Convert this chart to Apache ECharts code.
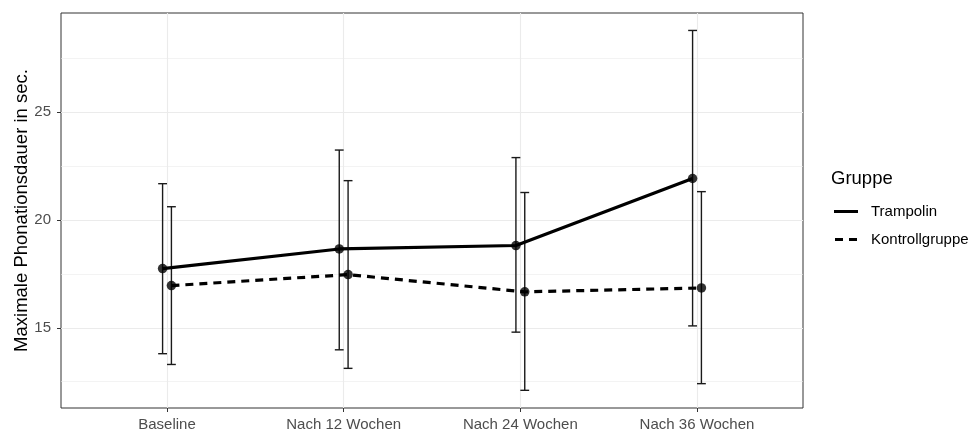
<!DOCTYPE html>
<html>
<head>
<meta charset="utf-8">
<script src="https://cdn.jsdelivr.net/npm/echarts@6/dist/echarts.min.js"></script>
<style>
  html, body { margin: 0; padding: 0; background: #fff; }
  #chart { width: 971px; height: 432px; }
</style>
</head>
<body>
<div id="chart"></div>
<script>
// ---- data ----
const categories = ['Baseline', 'Nach 12 Wochen', 'Nach 24 Wochen', 'Nach 36 Wochen'];
const groups = ['Trampolin', 'Kontrollgruppe'];
const trampolinMean = [17.75, 18.66, 18.82, 21.93];
const trampolinLow  = [13.80, 13.98, 14.80, 15.09];
const trampolinHigh = [21.69, 23.25, 22.90, 28.80];
const kontrolleMean = [16.96, 17.47, 16.67, 16.85];
const kontrolleLow  = [13.30, 13.12, 12.10, 12.41];
const kontrolleHigh = [20.62, 21.83, 21.28, 21.32];
const yMajorTicks = [15, 20, 25];
const yMinorTicks = [12.5, 17.5, 22.5, 27.5];

// ---- layout/style ----
const FONT = '"Liberation Sans", Arial, sans-serif';
const dodge = 0.025;
const capWidth = 0.05;
const catPos = categories.map((c, i) => i + 1);

function pts(mean, off) { return mean.map((v, i) => [catPos[i] + off, v]); }
function bars(low, high, off) { return low.map((v, i) => [catPos[i] + off, v, high[i]]); }

function errRender(params, api) {
  const x = api.value(0), lo = api.value(1), hi = api.value(2);
  const top = api.coord([x, hi]);
  const bot = api.coord([x, lo]);
  const w = api.size([capWidth, 0])[0] / 2;
  const st = { stroke: '#1a1a1a', lineWidth: 1.4 };
  return {
    type: 'group',
    children: [
      { type: 'line', shape: { x1: top[0], y1: top[1], x2: bot[0], y2: bot[1] }, style: st },
      { type: 'line', shape: { x1: top[0] - w, y1: top[1], x2: top[0] + w, y2: top[1] }, style: st },
      { type: 'line', shape: { x1: bot[0] - w, y1: bot[1], x2: bot[0] + w, y2: bot[1] }, style: st }
    ]
  };
}

const chart = echarts.init(document.getElementById('chart'), null, { renderer: 'canvas' });
chart.setOption({
  animation: false,
  backgroundColor: '#fff',
  textStyle: { fontFamily: FONT },
  grid: {
    left: 61, right: 168, top: 13, bottom: 24,
    show: true, borderColor: '#333333', borderWidth: 1, backgroundColor: 'transparent',
    outerBoundsMode: 'none'
  },
  title: {
    text: 'Gruppe', left: 831, top: 169, padding: 0,
    textStyle: { fontFamily: FONT, fontSize: 18.5, fontWeight: 'normal', color: '#000' }
  },
  legend: {
    orient: 'vertical', left: 834, top: 204, padding: 0,
    itemWidth: 24, itemHeight: 3, itemGap: 13,
    textStyle: { fontFamily: FONT, fontSize: 15, color: '#000', padding: [0, 0, 0, 8] },
    data: [
      { name: groups[0], icon: 'path://M0,0H24V3H0Z' },
      { name: groups[1], icon: 'path://M0,0H8V3H0Z M14,0H22V3H14Z' }
    ]
  },
  xAxis: {
    type: 'value', min: 0.4, max: 4.6,
    axisLine: { show: false },
    axisTick: { show: true, customValues: catPos, length: 4, lineStyle: { color: '#333' } },
    axisLabel: {
      customValues: catPos, margin: 9, fontSize: 15, color: '#4d4d4d', fontFamily: FONT,
      formatter: v => categories[Math.round(v) - 1]
    },
    splitLine: { show: true, lineStyle: { color: '#ebebeb', width: 1.1 } }
  },
  yAxis: [
    {
      type: 'value', min: 11.28, max: 29.61,
      name: 'Maximale Phonationsdauer in sec.', nameLocation: 'middle', nameGap: 30,
      nameMoveOverlap: false,
      nameTextStyle: { fontFamily: FONT, fontSize: 18.5, color: '#000' },
      axisLine: { show: false },
      axisTick: { show: true, customValues: yMajorTicks, length: 4, lineStyle: { color: '#333' } },
      axisLabel: { customValues: yMajorTicks, margin: 10, fontSize: 15, color: '#4d4d4d', fontFamily: FONT },
      splitLine: { show: true, lineStyle: { color: '#ebebeb', width: 1.1 } }
    },
    {
      type: 'value', min: 11.28, max: 29.61, position: 'left',
      axisLine: { show: false },
      axisTick: { show: false, customValues: yMinorTicks },
      axisLabel: { show: false, customValues: yMinorTicks },
      splitLine: { show: true, lineStyle: { color: '#ebebeb', width: 0.6 } }
    }
  ],
  series: [
    {
      name: groups[0] + ' Fehler', type: 'custom', renderItem: errRender, z: 3,
      encode: { x: 0, y: [1, 2] }, data: bars(trampolinLow, trampolinHigh, -dodge)
    },
    {
      name: groups[1] + ' Fehler', type: 'custom', renderItem: errRender, z: 3,
      encode: { x: 0, y: [1, 2] }, data: bars(kontrolleLow, kontrolleHigh, dodge)
    },
    {
      name: groups[0], type: 'line', z: 4, showSymbol: false, symbol: 'none',
      itemStyle: { color: '#000' },
      lineStyle: { color: '#000', width: 3.2, type: 'solid' },
      data: pts(trampolinMean, -dodge)
    },
    {
      name: groups[1], type: 'line', z: 4, showSymbol: false, symbol: 'none',
      itemStyle: { color: '#000' },
      lineStyle: { color: '#000', width: 3.2, type: [8, 6] },
      data: pts(kontrolleMean, dodge)
    },
    {
      name: groups[0] + ' Punkte', type: 'scatter', z: 5, symbol: 'circle', symbolSize: 9.5,
      itemStyle: { color: '#000' }, data: pts(trampolinMean, -dodge)
    },
    {
      name: groups[1] + ' Punkte', type: 'scatter', z: 5, symbol: 'circle', symbolSize: 9.5,
      itemStyle: { color: '#000' }, data: pts(kontrolleMean, dodge)
    }
  ]
});
</script>
</body>
</html>
